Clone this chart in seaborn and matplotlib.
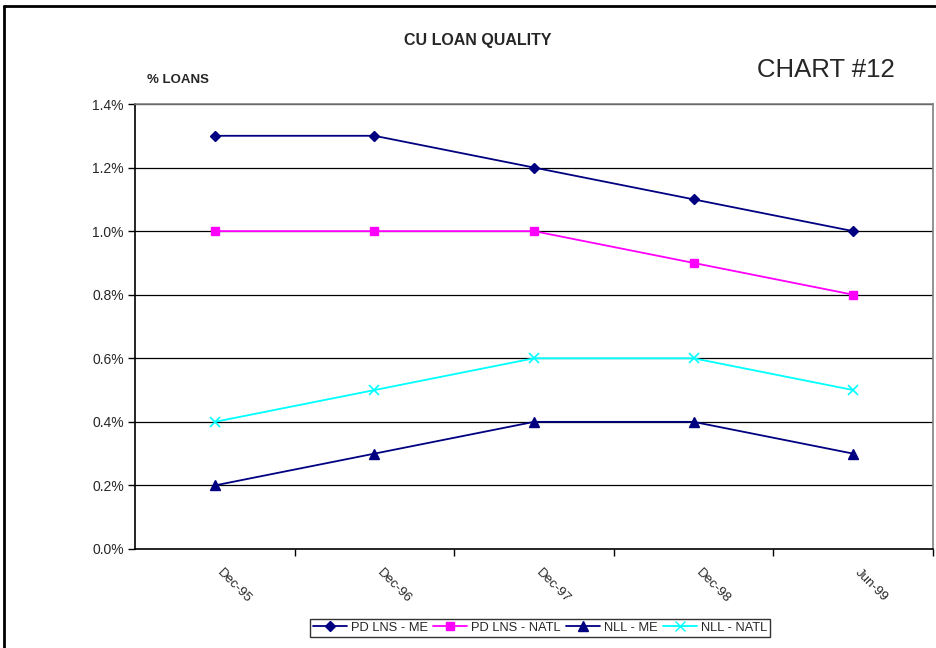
import matplotlib
matplotlib.use("Agg")
import matplotlib.pyplot as plt
import seaborn as sns
import pandas as pd
from matplotlib.lines import Line2D
from matplotlib.ticker import FuncFormatter

categories = ["Dec-95", "Dec-96", "Dec-97", "Dec-98", "Jun-99"]
pd_lns_me = [1.3, 1.3, 1.2, 1.1, 1.0]
pd_lns_natl = [1.0, 1.0, 1.0, 0.9, 0.8]
nll_me = [0.2, 0.3, 0.4, 0.4, 0.3]
nll_natl = [0.4, 0.5, 0.6, 0.6, 0.5]
series_names = ["PD LNS - ME", "PD LNS - NATL", "NLL - ME", "NLL - NATL"]
yticks = [0.0, 0.2, 0.4, 0.6, 0.8, 1.0, 1.2, 1.4]

sns.set_style("white")
plt.rcParams["font.family"] = ["Liberation Sans", "DejaVu Sans"]

fig = plt.figure(figsize=(9.37, 6.48), dpi=100)
ax = fig.add_axes([135/937, 1-549/648, (933-135)/937, (549-104)/648])

rows = []
for name, vals in zip(series_names, [pd_lns_me, pd_lns_natl, nll_me, nll_natl]):
    for i, v in enumerate(vals):
        rows.append({"pos": i, "value": v, "series": name})
df = pd.DataFrame(rows)

styles = {
    "PD LNS - ME": dict(color="#000080", marker="D", ms=5, mew=1),
    "PD LNS - NATL": dict(color="#FF00FF", marker="s", ms=6, mew=1),
    "NLL - ME": dict(color="#000080", marker="^", ms=7, mew=1),
    "NLL - NATL": dict(color="#00FFFF", marker="x", ms=7, mew=1.2),
}
handles = []
for name in series_names:
    st = styles[name]
    sub = df[df["series"] == name]
    sns.lineplot(data=sub, x="pos", y="value", ax=ax, color=st["color"],
                 marker=st["marker"], markersize=st["ms"], markeredgewidth=st["mew"],
                 markeredgecolor=st["color"], markerfacecolor=st["color"],
                 linewidth=1.3, legend=False, zorder=3)
    handles.append(Line2D([0], [0], color=st["color"], marker=st["marker"],
                          markersize=st["ms"], markeredgecolor=st["color"],
                          markerfacecolor=st["color"], lw=1.3, label=name))

ax.set_xlim(-0.5, 4.5)
ax.set_ylim(0, 1.4)
ax.set_yticks(yticks)
ax.yaxis.set_major_formatter(FuncFormatter(lambda v, p: f"{v:.1f}%"))
ax.set_xticks([0.5, 1.5, 2.5, 3.5, 4.5])
ax.set_xticklabels([])
ax.tick_params(axis="x", which="major", length=5, width=1, color="black", direction="out", bottom=True)
ax.tick_params(axis="y", length=5, width=1, color="black", direction="out", left=True,
               labelsize=10, pad=3)
for y in yticks[1:]:
    ax.axhline(y, color="black", lw=0.9, zorder=1)
ax.set_xlabel("")
ax.set_ylabel("")
for s in ["left", "bottom"]:
    ax.spines[s].set_color("black")
    ax.spines[s].set_linewidth(1.2)
for s in ["top", "right"]:
    ax.spines[s].set_color("#808080")
    ax.spines[s].set_linewidth(1.2)

for i, lab in enumerate(categories):
    ax.annotate(lab, xy=(i, 0), xycoords=("data", "axes fraction"),
                xytext=(3, -16), textcoords="offset points",
                rotation=-45, rotation_mode="anchor", ha="left", va="center",
                fontsize=9.5)

fig.text(478/937, 1-41/648, "CU LOAN QUALITY", ha="center", va="center",
         fontsize=11.5, fontweight="bold")
fig.text(147/937, 1-80/648, "% LOANS", ha="left", va="center",
         fontsize=9.5, fontweight="bold")
fig.text(757/937, 1-70/648, "CHART #12", ha="left", va="center", fontsize=18.5)

leg = fig.legend(handles=handles, loc="center", bbox_to_anchor=(540/937, 1-628/648),
                 ncol=4, frameon=True, fontsize=9.3, handlelength=2.6,
                 columnspacing=0.45, handletextpad=0.3, borderpad=0.25,
                 fancybox=False)
leg.get_frame().set_edgecolor("black")
leg.get_frame().set_linewidth(1.0)

fig.add_artist(Line2D([4/937, 4/937], [0, 1-6/648], transform=fig.transFigure,
                      color="black", lw=2))
fig.add_artist(Line2D([4/937, 1], [1-6/648, 1-6/648], transform=fig.transFigure,
                      color="black", lw=2))

fig.savefig("out.png", dpi=100)
